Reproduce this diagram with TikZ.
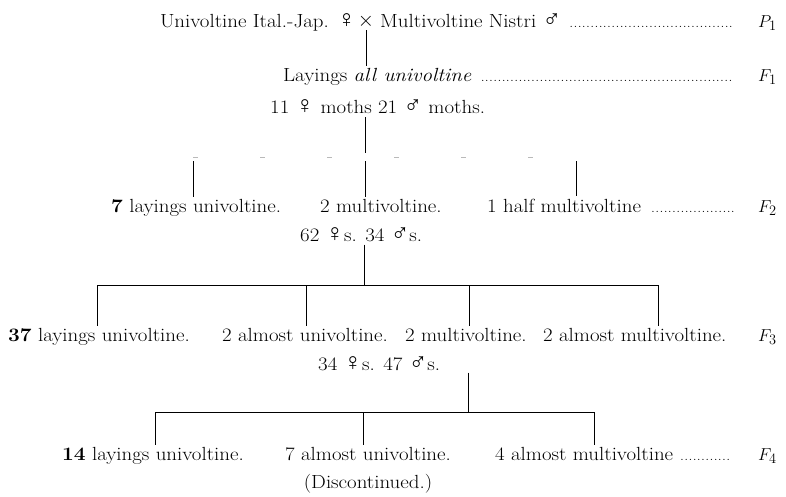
\documentclass[tikz,border=0pt]{standalone}
\usepackage{fontspec}
\setmainfont[FakeStretch=1.1]{Latin Modern Roman}
\usepackage{tikz}
\usetikzlibrary{positioning,calc}
\newfontfamily\sexfont[Scale=1.3]{Liberation Serif}
\newcommand{\fem}{{\sexfont ♀}}
\newcommand{\mal}{{\sexfont ♂}}
\newcommand{\dotlead}{\leaders\hbox to 4.2pt{\hss\fontsize{11}{11}\selectfont.\hss}\hfill}

\begin{document}
\begin{tikzpicture}[x=1pt, y=-1pt,
    txt/.style={anchor=base west, inner sep=0pt, font=\fontsize{19}{22}\selectfont},
    stem/.style={line width=0.9pt},
    drop/.style={line width=0.9pt, shorten >=2pt},
    worn/.style={line width=0.6pt, gray!55, dash pattern=on 5pt off 62pt}]
    \useasboundingbox (0,0) rectangle (786,496);

    \node[txt, anchor=base east] (pfem) at (356,27) {Univoltine Ital.-Jap. \fem};
    \node[inner sep=0pt, font=\fontsize{20}{22}\selectfont] (cross) at (366,21) {$\times$};
    \node[txt] (pmal) at (380,27) {\hbox to 355pt{Multivoltine Nistri \mal\ \dotlead}};
    \node[txt] (gp1) at (758,27) {$P_1$};

    \node[txt] (lay) at (283,81) {\hbox to 450pt{Layings \textit{all univoltine} \dotlead}};
    \node[txt] (gf1) at (758,81) {$F_1$};
    \draw[drop] ([yshift=-2pt]cross.south) -- (cross.south |- lay.north);
    \node[txt] (moths) at (270,113) {11 \fem\ moths 21 \mal\ moths.};

    \coordinate (b1) at (365,157);
    \coordinate (b1a) at (193,157);
    \coordinate (b1c) at (576,157);
    \draw[stem] ([yshift=-4pt]moths.south -| b1) -- ([yshift=4pt]b1);
    \draw[worn] (b1a) -- (b1c);

    \node[txt] (lay7) at (111,212) {\textbf{7} layings univoltine.};
    \node[txt] (mul2) at (320,212) {2 multivoltine.};
    \node[txt] (half1) at (487,212) {\hbox to 248pt{1 half multivoltine \dotlead}};
    \node[txt] (gf2) at (758,212) {$F_2$};
    \draw[drop] ([yshift=-4pt]b1a) -- (b1a |- lay7.north);
    \draw[drop] ([yshift=-4pt]b1) -- (b1 |- mul2.north);
    \draw[drop] ([yshift=-4pt]b1c) -- (b1c |- half1.north);

    \node[txt] (sex2) at (300,241) {62 \fem s. 34 \mal s.};
    \coordinate (b2) at (364,285);
    \coordinate (b2a) at (97,285);
    \coordinate (b2b) at (306,285);
    \coordinate (b2c) at (469,285);
    \coordinate (b2d) at (658,285);
    \draw[stem] ([yshift=-3pt]sex2.south -| b2) -- (b2);
    \draw[stem] (b2a) -- (b2d);

    \node[txt] (lay37) at (8,341) {\textbf{37} layings univoltine.};
    \node[txt] (alu2) at (222,341) {2 almost univoltine.};
    \node[txt] (mul2b) at (405,341) {2 multivoltine.};
    \node[txt] (alm2) at (543,341) {2 almost multivoltine.};
    \node[txt] (gf3) at (758,341) {$F_3$};
    \draw[drop] (b2a) -- (b2a |- lay37.north);
    \draw[drop] (b2b) -- (b2b |- alu2.north);
    \draw[drop] (b2c) -- (b2c |- mul2b.north);
    \draw[drop] (b2d) -- (b2d |- alm2.north);

    \node[txt] (sex3) at (318,370) {34 \fem s. 47 \mal s.};
    \coordinate (b3) at (468,412);
    \coordinate (b3a) at (155,412);
    \coordinate (b3b) at (363,412);
    \coordinate (b3c) at (594,412);
    \draw[stem] ([yshift=-2pt]sex3.south -| b3) -- (b3);
    \draw[stem] (b3a) -- (b3c);

    \node[txt] (lay14) at (62,460) {\textbf{14} layings univoltine.};
    \node[txt] (alu7) at (285,460) {7 almost univoltine.};
    \node[txt] (alm4) at (495,460) {\hbox to 237pt{4 almost multivoltine \dotlead}};
    \node[txt] (gf4) at (758,460) {$F_4$};
    \draw[drop] (b3a) -- (b3a |- lay14.north);
    \draw[drop] (b3b) -- (b3b |- alu7.north);
    \draw[drop] (b3c) -- (b3c |- alm4.north);
    \node[inner sep=0pt, font=\fontsize{19}{22}\selectfont] (disc) at (368,484) {(Discontinued.)};
\end{tikzpicture}
\end{document}
